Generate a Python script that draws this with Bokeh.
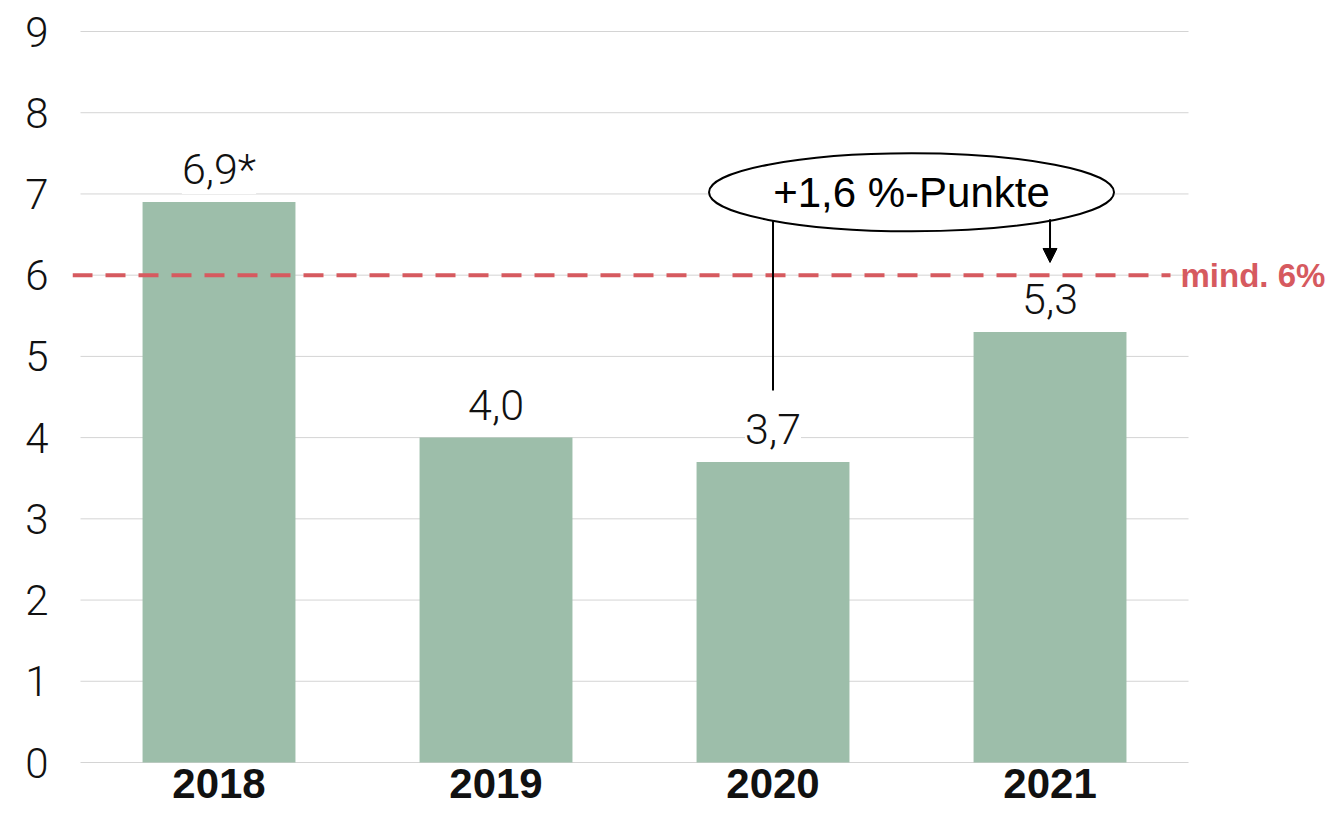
from bokeh.plotting import figure
from bokeh.models import (Range1d, FixedTicker, ColumnDataSource, LabelSet, Label,
                          Arrow, NormalHead)
from bokeh.core.properties import value
from bokeh.embed import file_html
from bokeh.resources import INLINE

# ---- data ----
years = ["2018", "2019", "2020", "2021"]
values = [6.9, 4.0, 3.7, 5.3]
value_labels = ["6,9*", "4,0", "3,7", "5,3"]
target = 6
target_label = "mind. 6%"
y_ticks = [0, 1, 2, 3, 4, 5, 6, 7, 8, 9]
change_label = "+1,6 %-Punkte"

FONT = "Liberation Sans"
LIGHT = "Roboto Light"
BAR = "#9dbeaa"
RED = "#d65a5f"
GRID = "#d4d4d4"

xpos = [i + 0.5 for i in range(len(years))]
src = ColumnDataSource(dict(x=xpos, top=values, label=value_labels,
                            year=years, zero=[0] * len(years)))

W, H = 1334, 815
p = figure(width=W, height=H, x_range=Range1d(-0.0289, 4.527),
           y_range=Range1d(-0.6525, 9.3817), output_backend="svg",
           toolbar_location=None, min_border=0, min_border_left=72)
p.outline_line_color = None
p.background_fill_color = "white"
p.border_fill_color = "white"
p.grid.visible = False
p.xaxis.visible = False

ya = p.yaxis[0]
ya.ticker = FixedTicker(ticks=y_ticks)
ya.axis_line_color = None
ya.major_tick_line_color = None
ya.minor_tick_line_color = None
ya.major_label_text_font = LIGHT
ya.major_label_text_font_size = "42px"
ya.major_label_text_color = "#111111"
ya.major_label_standoff = 18

# gridlines at the tick values, spanning the category area
p.segment(x0=[0] * len(y_ticks), x1=[len(years)] * len(y_ticks), y0=y_ticks,
          y1=y_ticks, line_color=GRID, line_width=1)

p.vbar(x="x", top="top", width=0.552, source=src, fill_color=BAR, line_color=None)

# category labels under the bars
p.text(x="x", y="zero", text="year", source=src, text_align="center",
       text_baseline="top", y_offset=6, text_font=value(FONT),
       text_font_style="bold", text_font_size="42px", text_color="#111111")

# target line
p.segment(x0=[-0.0289], x1=[3.935], y0=[target], y1=[target], line_color=RED,
          line_width=4, line_dash="20 13")
p.add_layout(Label(x=3.971, y=target, text=target_label, text_font=FONT,
                   text_font_style="bold", text_font_size="33px",
                   text_color=RED, text_baseline="middle"))

# value labels
p.add_layout(LabelSet(x="x", y="top", text="label", source=src, text_align="center",
                      text_baseline="alphabetic", y_offset=18, text_font=value(LIGHT),
                      text_font_size="43px", text_color="#111111",
                      background_fill_color="white"))

# annotation: connector and arrow
p.segment(x0=[xpos[2]], x1=[xpos[2]], y0=[6.69], y1=[4.58], line_color="black",
          line_width=2)
p.add_layout(Arrow(end=NormalHead(size=14, fill_color="black", line_color="black"),
                   x_start=xpos[3], y_start=6.69, x_end=xpos[3], y_end=6.156,
                   line_color="black", line_width=2))
p.ellipse(x=[3.0], y=[7.02], width=405, height=78, width_units="screen",
          height_units="screen", fill_color="white", line_color="black",
          line_width=2)
p.add_layout(Label(x=3.0, y=7.02, text=change_label, text_font=FONT,
                   text_font_size="42px", text_color="black",
                   text_align="center", text_baseline="middle"))

open("out.html", "w").write(file_html(p, INLINE))
